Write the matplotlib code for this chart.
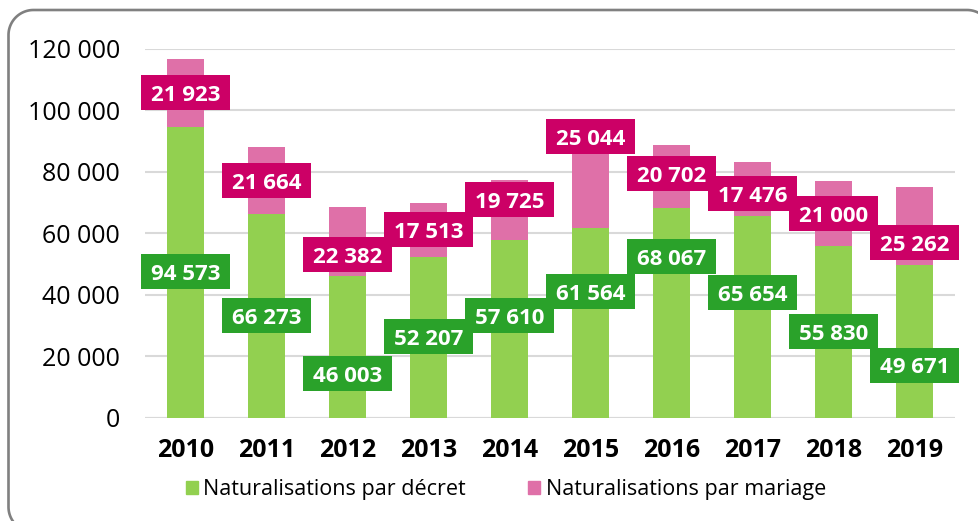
import matplotlib
matplotlib.use("Agg")
import matplotlib.pyplot as plt
from matplotlib.patches import Rectangle, Patch
from matplotlib.lines import Line2D
import matplotlib.transforms as mtransforms
import numpy as np

years = ["2010", "2011", "2012", "2013", "2014", "2015", "2016", "2017", "2018", "2019"]
decret = [94573, 66273, 46003, 52207, 57610, 61564, 68067, 65654, 55830, 49671]
mariage = [21923, 21664, 22382, 17513, 19725, 25044, 20702, 17476, 21000, 25262]
yticks = [0, 20000, 40000, 60000, 80000, 100000, 120000]
# label anchor heights (manually placed in the original chart)
decret_label_y = [47350, 33030, 14320, 26200, 33030, 41000, 52230, 40510, 27820, 16990]
mariage_label_y = [105760, 76960, 52980, 61180, 70940, 91440, 79240, 72730, 66220, 56950]

plt.rcParams['font.family'] = ['Open Sans', 'DejaVu Sans']

def fmt(v):
    return f"{v:,}".replace(",", " ")

W, H = 979, 521
fig = plt.figure(figsize=(W/100, H/100), dpi=100)
ax = fig.add_axes([145/W, 1-417.5/H, (955-145)/W, (417.5-48.7)/H])

x = np.arange(len(years))
c_green = "#92d050"
c_pink = "#df70a8"
ax.bar(x, decret, width=0.457, color=c_green, zorder=3)
ax.bar(x, mariage, bottom=decret, width=0.457, color=c_pink, zorder=3)

def label(xi, yi, txt, fc):
    trans = fig.dpi_scale_trans + mtransforms.ScaledTranslation(xi, yi, ax.transData)
    ax.add_patch(Rectangle((-0.445, -0.175), 0.89, 0.35, transform=trans,
                           fc=fc, ec="none", zorder=5, clip_on=False))
    ax.annotate(txt, xy=(xi, yi), xytext=(0, -5.8), textcoords="offset points",
                ha="center", va="baseline", color="white", fontsize=16,
                fontweight="bold", zorder=6, annotation_clip=False)

for i in range(len(years)):
    label(x[i], decret_label_y[i], fmt(decret[i]), "#2aa22a")
    label(x[i], mariage_label_y[i], fmt(mariage[i]), "#cc0066")

ax.set_ylim(0, 120000)
ax.set_xlim(-0.5, len(years)-0.5)
ax.set_yticks(yticks)
ax.set_yticklabels([fmt(v) for v in yticks], fontsize=18)
ax.set_xticks(x)
ax.set_xticklabels(years, fontsize=18, fontweight="bold")
ax.tick_params(axis="x", length=0, pad=15)
ax.tick_params(axis="y", length=0, pad=18)
ax.yaxis.grid(True, color="#d9d9d9", linewidth=1.5, zorder=0)
for s in ax.spines.values():
    s.set_visible(False)
ax.axhline(0, color="#d9d9d9", linewidth=1.5, zorder=1)

handles = [Patch(color=c_green, label="Naturalisations par décret"),
           Patch(color=c_pink, label="Naturalisations par mariage")]
fig.legend(handles=handles, loc="center", bbox_to_anchor=(506/W, 1-490/H), ncol=2,
           frameon=False, fontsize=15.5, handlelength=0.55, handleheight=0.55,
           handletextpad=0.25, columnspacing=2.9)

# rounded outer frame: left + top edges with corners (right/bottom lie outside the image)
L, T, R, B, r = 8.5, 10.0, 992.0, 532.0, 25.0
def arc(cx, cy, a0, a1):
    t = np.linspace(np.radians(a0), np.radians(a1), 40)
    return cx + r*np.cos(t), cy + r*np.sin(t)
xs, ys = [], []
for cx, cy, a0, a1 in [(L+r, B-r, 90, 180), (L+r, T+r, 180, 270), (R-r, T+r, 270, 300)]:
    px, py = arc(cx, cy, a0, a1)
    xs.extend(px); ys.extend(py)
xs = np.array(xs)/W
ys = 1 - np.array(ys)/H
fig.add_artist(Line2D(xs, ys, transform=fig.transFigure, color="#808080", lw=1.9,
                      solid_capstyle="butt"))

fig.savefig("out.png", dpi=100)
